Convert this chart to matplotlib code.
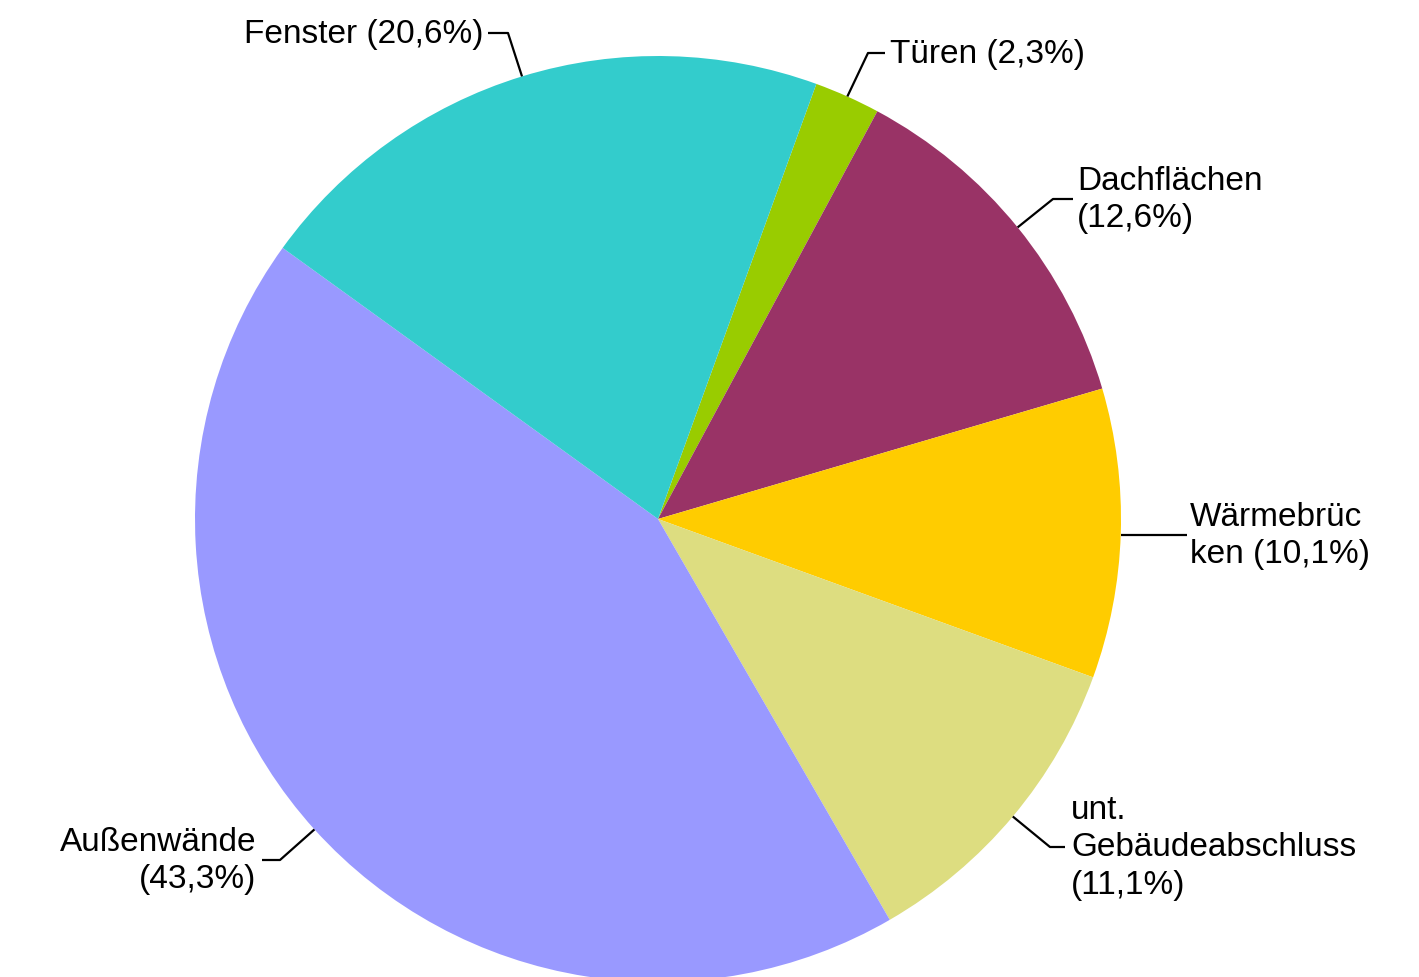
import numpy as np
import matplotlib
matplotlib.use("Agg")
import matplotlib.pyplot as plt

# --- data ---
labels = ["Türen (2,3%)", "Dachflächen\n(12,6%)", "Wärmebrüc\nken (10,1%)",
          "unt.\nGebäudeabschluss\n(11,1%)", "Außenwände\n(43,3%)", "Fenster (20,6%)"]
shares = [2.3, 12.6, 10.1, 11.1, 43.3, 20.6]
colors = ["#99CC00", "#993366", "#FFCC00", "#DDDD80", "#9999FF", "#33CCCC"]

# label layout in pixels: elbow point, end of line, text x, alignment
elbows = [(868, 54), (1053, 200), None, (1050, 848), (280, 861), (508, 34)]
ends = [(885, 54), (1073, 200), (1187, 536), (1065, 848), (262, 861), (488, 34)]
text_x = [890, 1077, 1190, 1071, 256, 484]
aligns = ["left", "left", "left", "left", "right", "right"]

W, H = 1419, 978
cx, cy, R = 658, 520, 463
start = 70

plt.rcParams['font.family'] = ['Liberation Sans', 'DejaVu Sans']

fig = plt.figure(figsize=(W / 100, H / 100), dpi=100)
ax = fig.add_axes([0, 0, 1, 1])


def px2d(p):
    return ((p[0] - cx) / R, (cy - p[1]) / R)


wedges, _ = ax.pie(shares, colors=colors, startangle=start, counterclock=False,
                   radius=1.0, center=(0, 0), wedgeprops=dict(linewidth=0))

ax.set_aspect('auto')
ax.set_xlim(-cx / R, (W - cx) / R)
ax.set_ylim(-(H - cy) / R, cy / R)
ax.axis('off')

for w, lab, el, en, tx, al in zip(wedges, labels, elbows, ends, text_x, aligns):
    mid = np.deg2rad((w.theta1 + w.theta2) / 2)
    p0 = (np.cos(mid), np.sin(mid))
    pe = px2d(en)
    if el is None:
        # straight line from wedge edge
        xs = [p0[0], pe[0]]
        ys = [pe[1], pe[1]]
    else:
        pel = px2d(el)
        xs = [p0[0], pel[0], pe[0]]
        ys = [p0[1], pel[1], pe[1]]
    ax.plot(xs, ys, color='black', lw=1.6, solid_capstyle='butt', clip_on=False)
    ax.text(px2d((tx, en[1]))[0], pe[1], lab, ha=al, va='center', fontsize=24,
            linespacing=1.28, color='black', multialignment=al)

fig.savefig("out.png", dpi=100)
